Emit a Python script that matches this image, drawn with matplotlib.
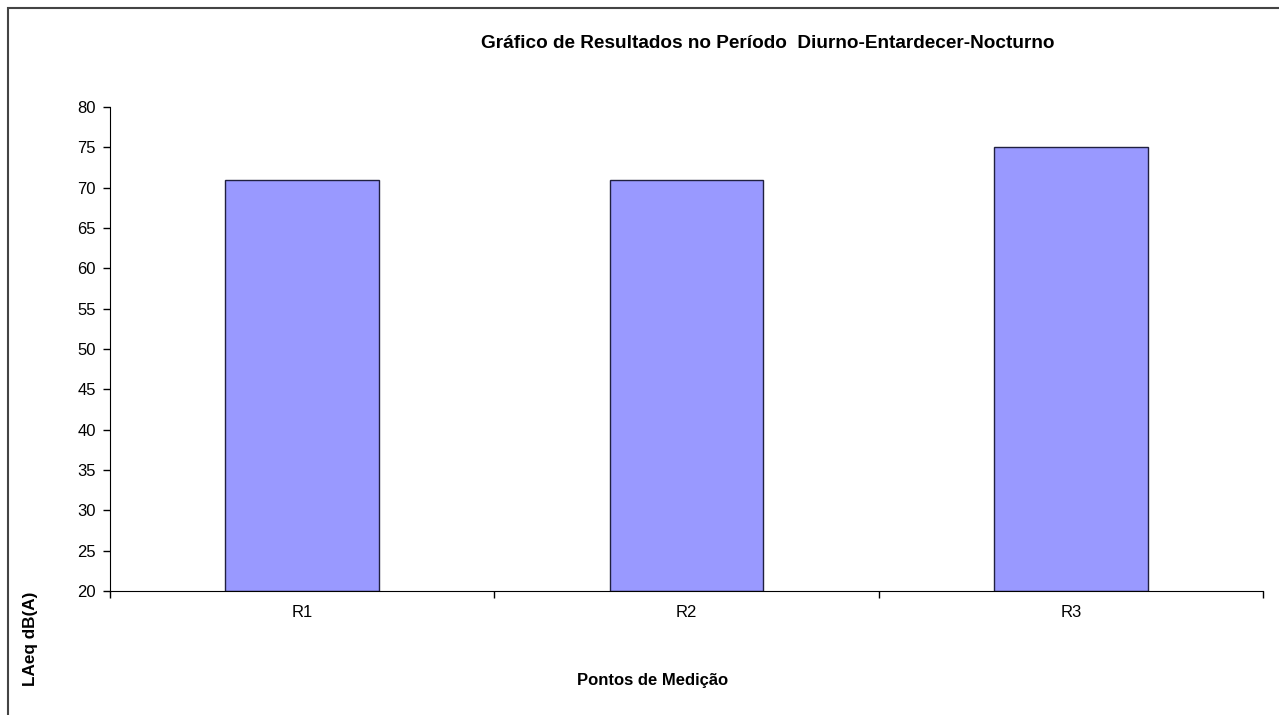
import matplotlib.pyplot as plt
from matplotlib.patches import Rectangle

plt.rcParams['font.family'] = ['Liberation Sans', 'DejaVu Sans']

pontos = ['R1', 'R2', 'R3']
laeq = [71, 71, 75]
y_ticks = list(range(20, 81, 5))

fig = plt.figure(figsize=(12.79, 7.15), dpi=100)
ax = fig.add_axes([0.0860, 0.1734, 0.9015, 0.6769])

idx = list(range(len(pontos)))
ax.bar(idx, [v - 20 for v in laeq], 0.4, bottom=20, color='#9999FF',
       edgecolor='#202040', linewidth=1.0)

ax.set_xlim(-0.5, len(pontos) - 0.5)
ax.set_ylim(20, 80)
ax.set_yticks(y_ticks)

# category boundaries get the ticks, labels sit in the middle
ax.set_xticks([i - 0.5 for i in range(len(pontos) + 1)])
ax.set_xticklabels([])
ax.set_xticks(idx, minor=True)
ax.set_xticklabels(pontos, minor=True)
ax.tick_params(axis='x', which='minor', length=0, pad=10, labelsize=12)
ax.tick_params(axis='x', which='major', length=5, width=1, direction='out')
ax.tick_params(axis='y', length=5, width=1, direction='out', pad=5, labelsize=12)

ax.spines['top'].set_visible(False)
ax.spines['right'].set_visible(False)

fig.text(768 / 1279, 1 - 44 / 715,
         'Gráfico de Resultados no Período  Diurno-Entardecer-Nocturno',
         ha='center', va='center', fontsize=13.7, fontweight='bold')
fig.text(653 / 1279, 1 - 680 / 715, 'Pontos de Medição',
         ha='center', va='center', fontsize=12, fontweight='bold')
fig.text(30 / 1279, 1 - 686 / 715, 'LAeq dB(A)', rotation=90,
         ha='center', va='bottom', fontsize=12.3, fontweight='bold')

# outer chart frame (only top and left visible in the original)
fig.patches.append(Rectangle((8 / 1279, -0.1), 1.1, 1 - 8 / 715 + 0.1,
                             transform=fig.transFigure, fill=False,
                             edgecolor='#444444', linewidth=1.5))

fig.savefig('out.png', dpi=100)
